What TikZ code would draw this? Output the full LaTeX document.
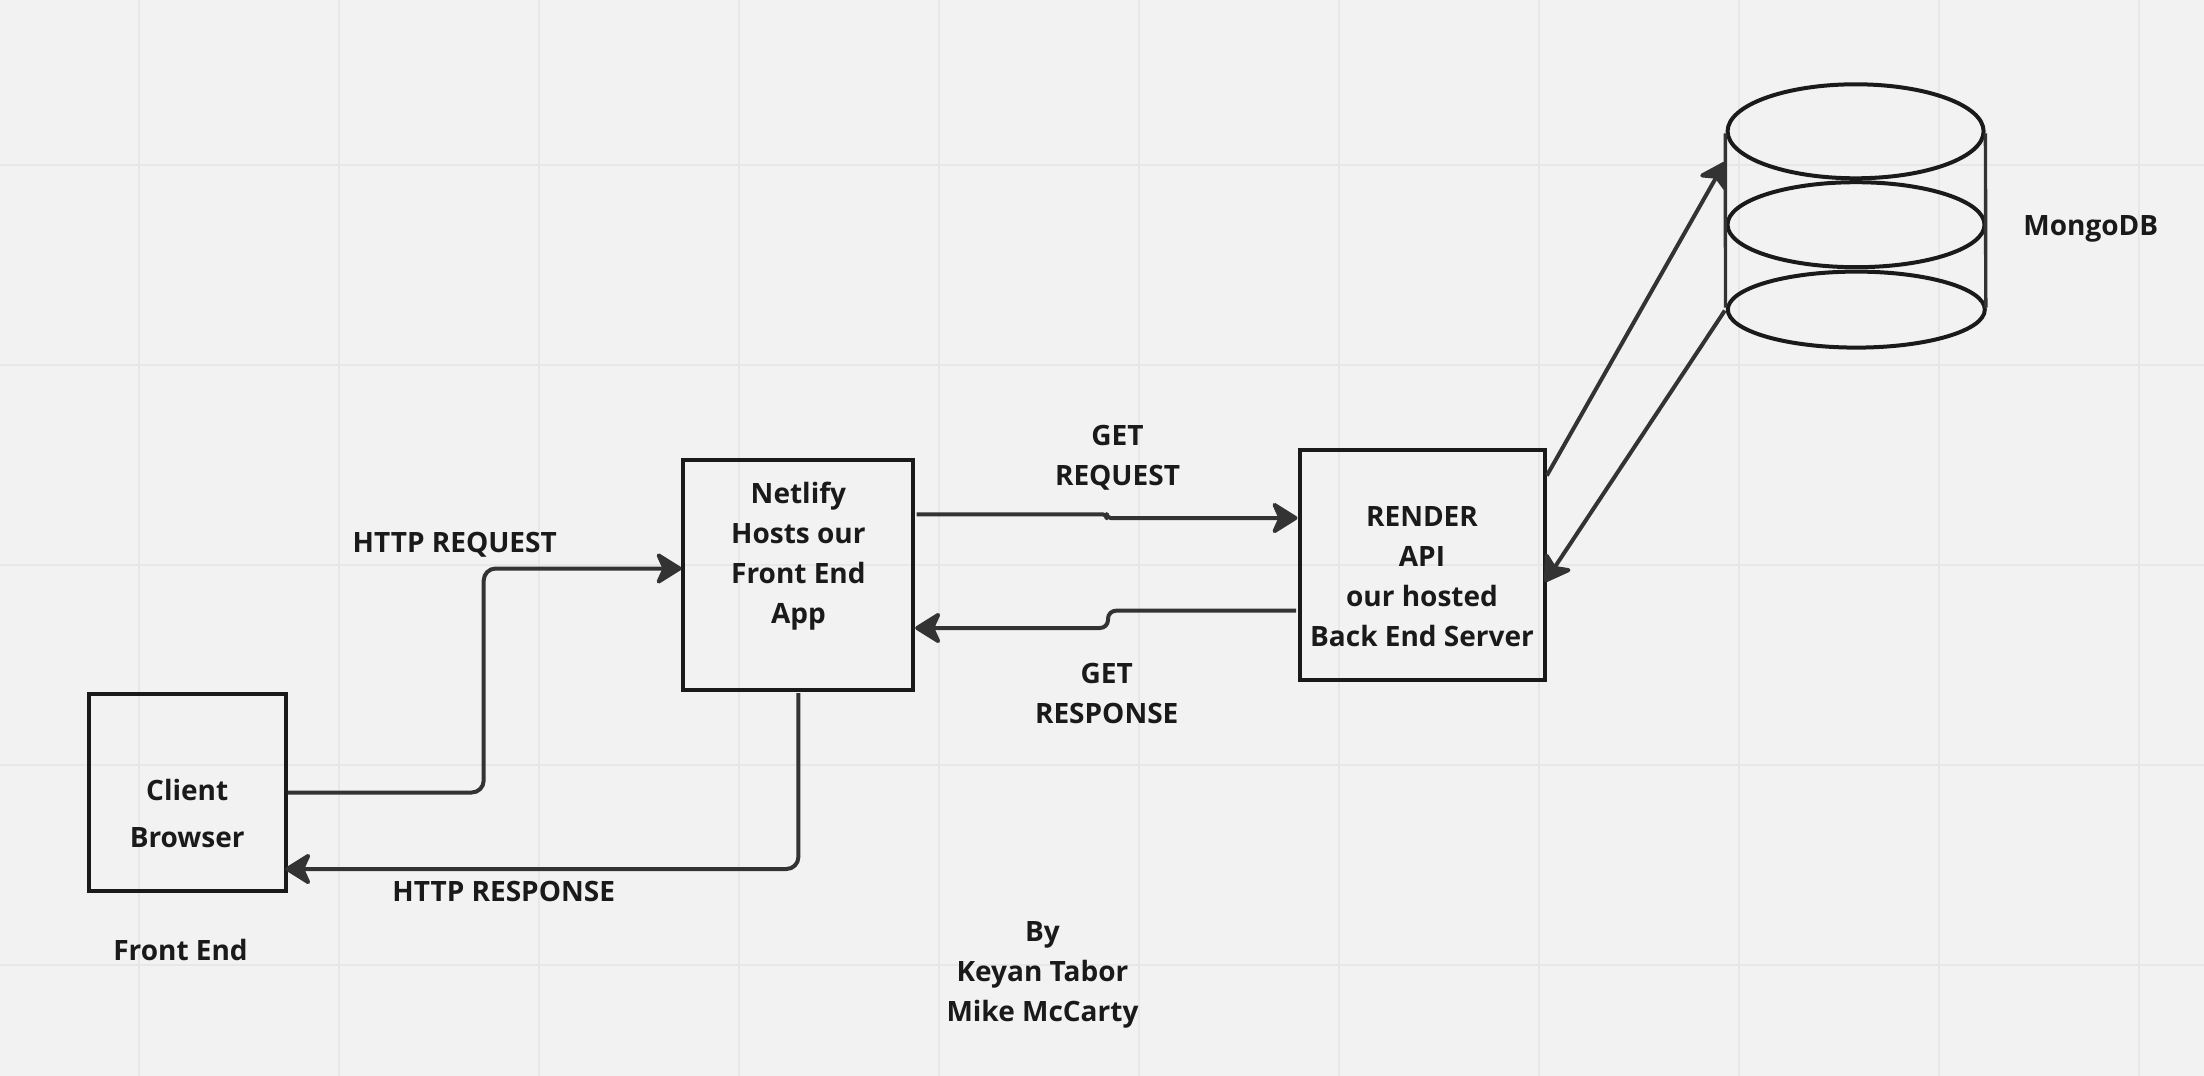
\documentclass[tikz,border=0pt]{standalone}
\usepackage{fontspec}
\setmainfont{Open Sans}
\usetikzlibrary{arrows.meta,shapes.geometric}
\definecolor{bgc}{HTML}{F2F2F2}
\definecolor{gridc}{HTML}{E7E7E7}
\definecolor{inkc}{HTML}{1A1A1A}
\definecolor{linkc}{HTML}{333333}
\tikzset{
  x=1pt,y=-1pt,
  txt/.style={font=\bfseries\fontsize{28}{40}\selectfont,text=inkc,align=center,inner sep=0pt,outer sep=0pt},
  boxn/.style={txt,draw=inkc,line width=4pt,rectangle,minimum width=#1},
  dbell/.style={ellipse,draw=inkc,line width=4pt,inner sep=0pt,outer sep=0pt},
  link/.style={draw=linkc,line width=4pt,rounded corners=12pt,line join=round,
    -{Stealth[length=29pt,width=36pt,inset=8pt,round,fill=linkc]}},
  side/.style={draw=linkc,line width=3.4pt},
}
\begin{document}
\begin{tikzpicture}
\useasboundingbox (0,0) rectangle (2204,1076);
\fill[bgc] (0,0) rectangle (2204,1076);
\foreach \gx in {139,339,...,2139} \draw[gridc,line width=2.2pt] (\gx,0) -- (\gx,1076);
\foreach \gy in {165,365,...,965} \draw[gridc,line width=2.2pt] (0,\gy) -- (2204,\gy);

% boxes
\node[boxn=197pt,minimum height=197pt] (client) at (187.2,792.5)
  {\phantom{x}\\[7pt]Client\\[7pt]Browser};
\node[boxn=230pt,minimum height=230pt] (netlify) at (798.4,575)
  {Netlify\\Hosts our\\Front End\\App\\[5pt]\phantom{x}};
\node[boxn=245pt,minimum height=230pt] (render) at (1422,564.5)
  {\rule{0pt}{44pt}RENDER\\API\\our hosted\\Back End Server};

% database
\node[dbell,minimum width=256pt,minimum height=94pt] (dbtop) at (1855.6,131.3) {};
\node[dbell,minimum width=257pt,minimum height=85pt] (dbmid) at (1856,224.7) {};
\node[dbell,minimum width=257pt,minimum height=76pt] (dbbot) at (1856.3,309.6) {};
\draw[side] ([xshift=-2.3pt,yshift=-2pt]dbtop.west) -- ([xshift=-2.3pt,yshift=2pt]dbbot.west);
\draw[side] ([xshift=1.8pt,yshift=-2pt]dbtop.east) -- ([xshift=1pt,yshift=2pt]dbbot.east);

% labels
\node[txt] (lreq) at (454.7,544.5) {HTTP REQUEST};
\node[txt] (lresp) at (503.7,891.5) {HTTP RESPONSE};
\node[txt] (lfront) at (180.5,950) {Front End};
\node[txt] (lgreq) at (1117.5,458) {GET\\REQUEST};
\node[txt] (lgresp) at (1106.7,693) {GET\\RESPONSE};
\node[txt] (lby) at (1042.5,975) {By\\Keyan Tabor\\Mike McCarty};
\node[txt] (lmongo) at (2090.8,229) {MongoDB};

% connectors
\draw[link] ([xshift=2pt]client.east) -- (483.7,792.5) -- (483.7,568.5) -- ([xshift=-1.8pt,yshift=6.5pt]netlify.west);
\draw[link] ([yshift=-3pt]netlify.south) -- (798.4,869) -- ([xshift=-.5pt,yshift=22pt]client.south east);
\draw[link,rounded corners=4pt] ([xshift=3.3pt,yshift=60.7pt]netlify.east) -- (1106.7,514.3) -- (1106.7,518) -- ([xshift=-2pt,yshift=46.5pt]render.west);
\draw[link,rounded corners=8pt] ([xshift=-3.5pt,yshift=-46.2pt]render.west) -- (1108,610.7) -- (1108,628) -- ([xshift=1.8pt,yshift=-53pt]netlify.east);
\draw[link] ([xshift=2.3pt,yshift=88.9pt]render.east) -- ([xshift=-2.7pt,yshift=-30.7pt]dbtop.west);
\draw[link] ([xshift=-3pt,yshift=-1pt]dbbot.west) -- ([xshift=.4pt,yshift=-17.5pt]render.east);
\end{tikzpicture}
\end{document}
